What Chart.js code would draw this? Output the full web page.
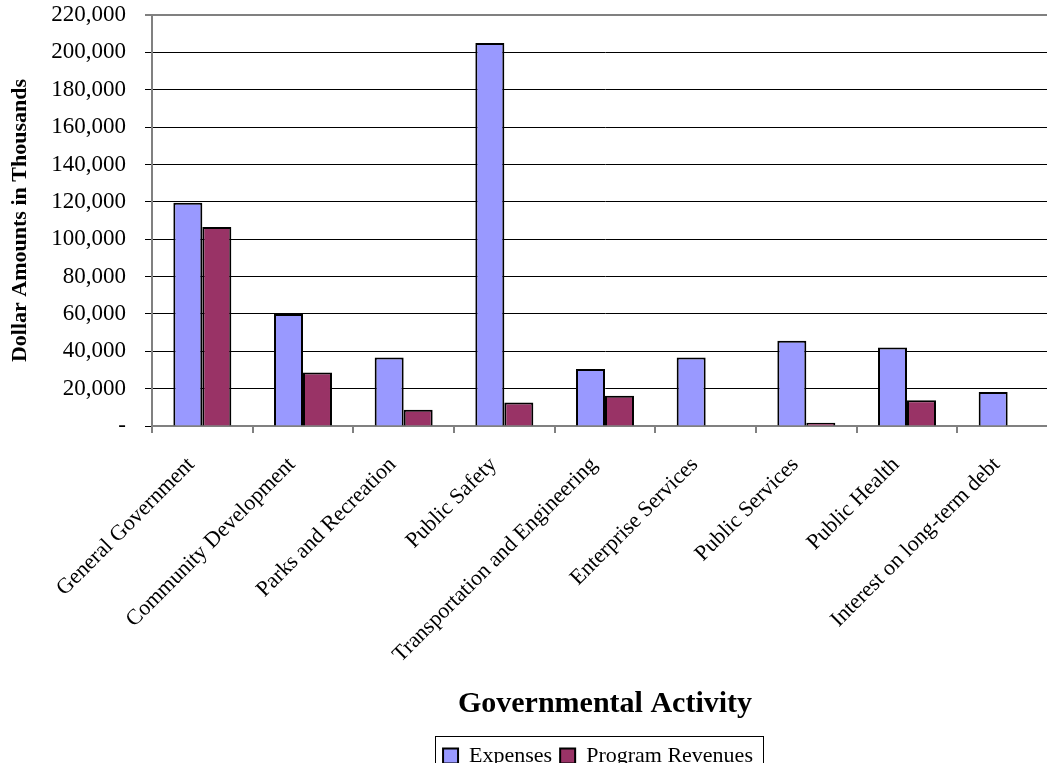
<!DOCTYPE html>
<html>
<head>
<meta charset="utf-8">
<title>Governmental Activity</title>
<script src="https://cdn.jsdelivr.net/npm/chart.js@4.4.1/dist/chart.umd.min.js"></script>
<style>
  html, body { margin: 0; padding: 0; background: #fff; overflow: hidden; }
  #wrap { width: 1058px; height: 777px; }
</style>
</head>
<body>
<div id="wrap"><canvas id="chart"></canvas></div>
<script>
/* Expenses vs program revenues by governmental activity */

const activities = [
  'General Government', 'Community Development', 'Parks and Recreation',
  'Public Safety', 'Transportation and Engineering', 'Enterprise Services',
  'Public Services', 'Public Health', 'Interest on long-term debt'
];
const expenses = [119500, 60000, 36700, 205000, 30500, 36700, 45600, 42000, 18200];
const programRevenues = [106500, 28600, 8700, 12600, 16200, 0, 1700, 13800, 0];

const yMin = 0, yMax = 220000, yStep = 20000;

const SERIF = "'Liberation Serif', 'Times New Roman', serif";
const fmtTick = v => v === 0 ? '-' : v.toLocaleString('en-US');

// centre the legend under the plot and put a box round it
const legendBox = {
  id: 'legendBox',
  afterLayout(chart) {
    const lg = chart.legend;
    if (!lg) return;
    lg.left = chart.chartArea.left - 7;
    lg.right = chart.chartArea.right - 7;
  },
  afterDraw(chart) {
    const boxes = chart.legend && chart.legend.legendHitBoxes;
    if (!boxes || !boxes.length) return;
    const first = boxes[0], last = boxes[boxes.length - 1];
    const ctx = chart.ctx;
    ctx.save();
    ctx.strokeStyle = '#000';
    ctx.lineWidth = 1;
    const x0 = first.left - 8, x1 = last.left + last.width + 10;
    const y0 = first.top - 9, y1 = first.top + first.height + 8;
    ctx.strokeRect(Math.round(x0) + 0.5, Math.round(y0) + 0.5, Math.round(x1 - x0), Math.round(y1 - y0));
    ctx.restore();
  }
};

new Chart(document.getElementById('chart'), {
  type: 'bar',
  data: {
    labels: activities,
    datasets: [
      { label: 'Expenses', data: expenses, backgroundColor: '#9999ff', borderColor: '#000', borderWidth: 2 },
      { label: 'Program Revenues', data: programRevenues, backgroundColor: '#993366', borderColor: '#000', borderWidth: 2 },
    ]
  },
  options: {
    responsive: true,
    maintainAspectRatio: false,
    animation: false,
    devicePixelRatio: 1,
    layout: { padding: 0 },
    datasets: { bar: { categoryPercentage: 0.576, barPercentage: 1.0 } },
    plugins: {
      tooltip: { enabled: false },
      legend: {
        position: 'bottom',
        labels: {
          color: '#000',
          font: { family: SERIF, size: 22 },
          boxWidth: 15, boxHeight: 15,
          padding: 8,
        }
      }
    },
    scales: {
      x: {
        offset: true,
        grid: { offset: true, drawOnChartArea: false, tickLength: 7, color: '#808080', lineWidth: 2 },
        border: { color: '#808080', width: 2 },
        ticks: {
          color: '#000', font: { family: SERIF, size: 22 },
          minRotation: 45, maxRotation: 45, autoSkip: false,
          padding: 19, labelOffset: -11
        },
        title: {
          display: true, text: 'Governmental Activity', color: '#000',
          font: { family: SERIF, size: 30, weight: 'bold' },
          padding: { top: 0, bottom: 15 }
        },
        afterFit: s => { s.height = 311; }
      },
      y: {
        min: yMin, max: yMax,
        grid: {
          color: c => c.tick && c.tick.value === yMax ? '#808080' : '#000',
          lineWidth: c => c.tick && c.tick.value === yMax ? 2 : 1,
          tickLength: 7, tickColor: '#000', tickWidth: 1
        },
        border: { color: '#808080', width: 2 },
        ticks: {
          stepSize: yStep, color: '#000', padding: 19,
          font: { family: SERIF, size: 23 },
          callback: fmtTick
        },
        title: {
          display: true, text: 'Dollar Amounts in Thousands', color: '#000',
          font: { family: SERIF, size: 22, weight: 'bold' },
          padding: { top: 7, bottom: 0 }
        },
        afterFit: s => { s.width = 152; s.paddingTop = 15; }
      }
    }
  },
  plugins: [legendBox]
});
</script>
</body>
</html>
